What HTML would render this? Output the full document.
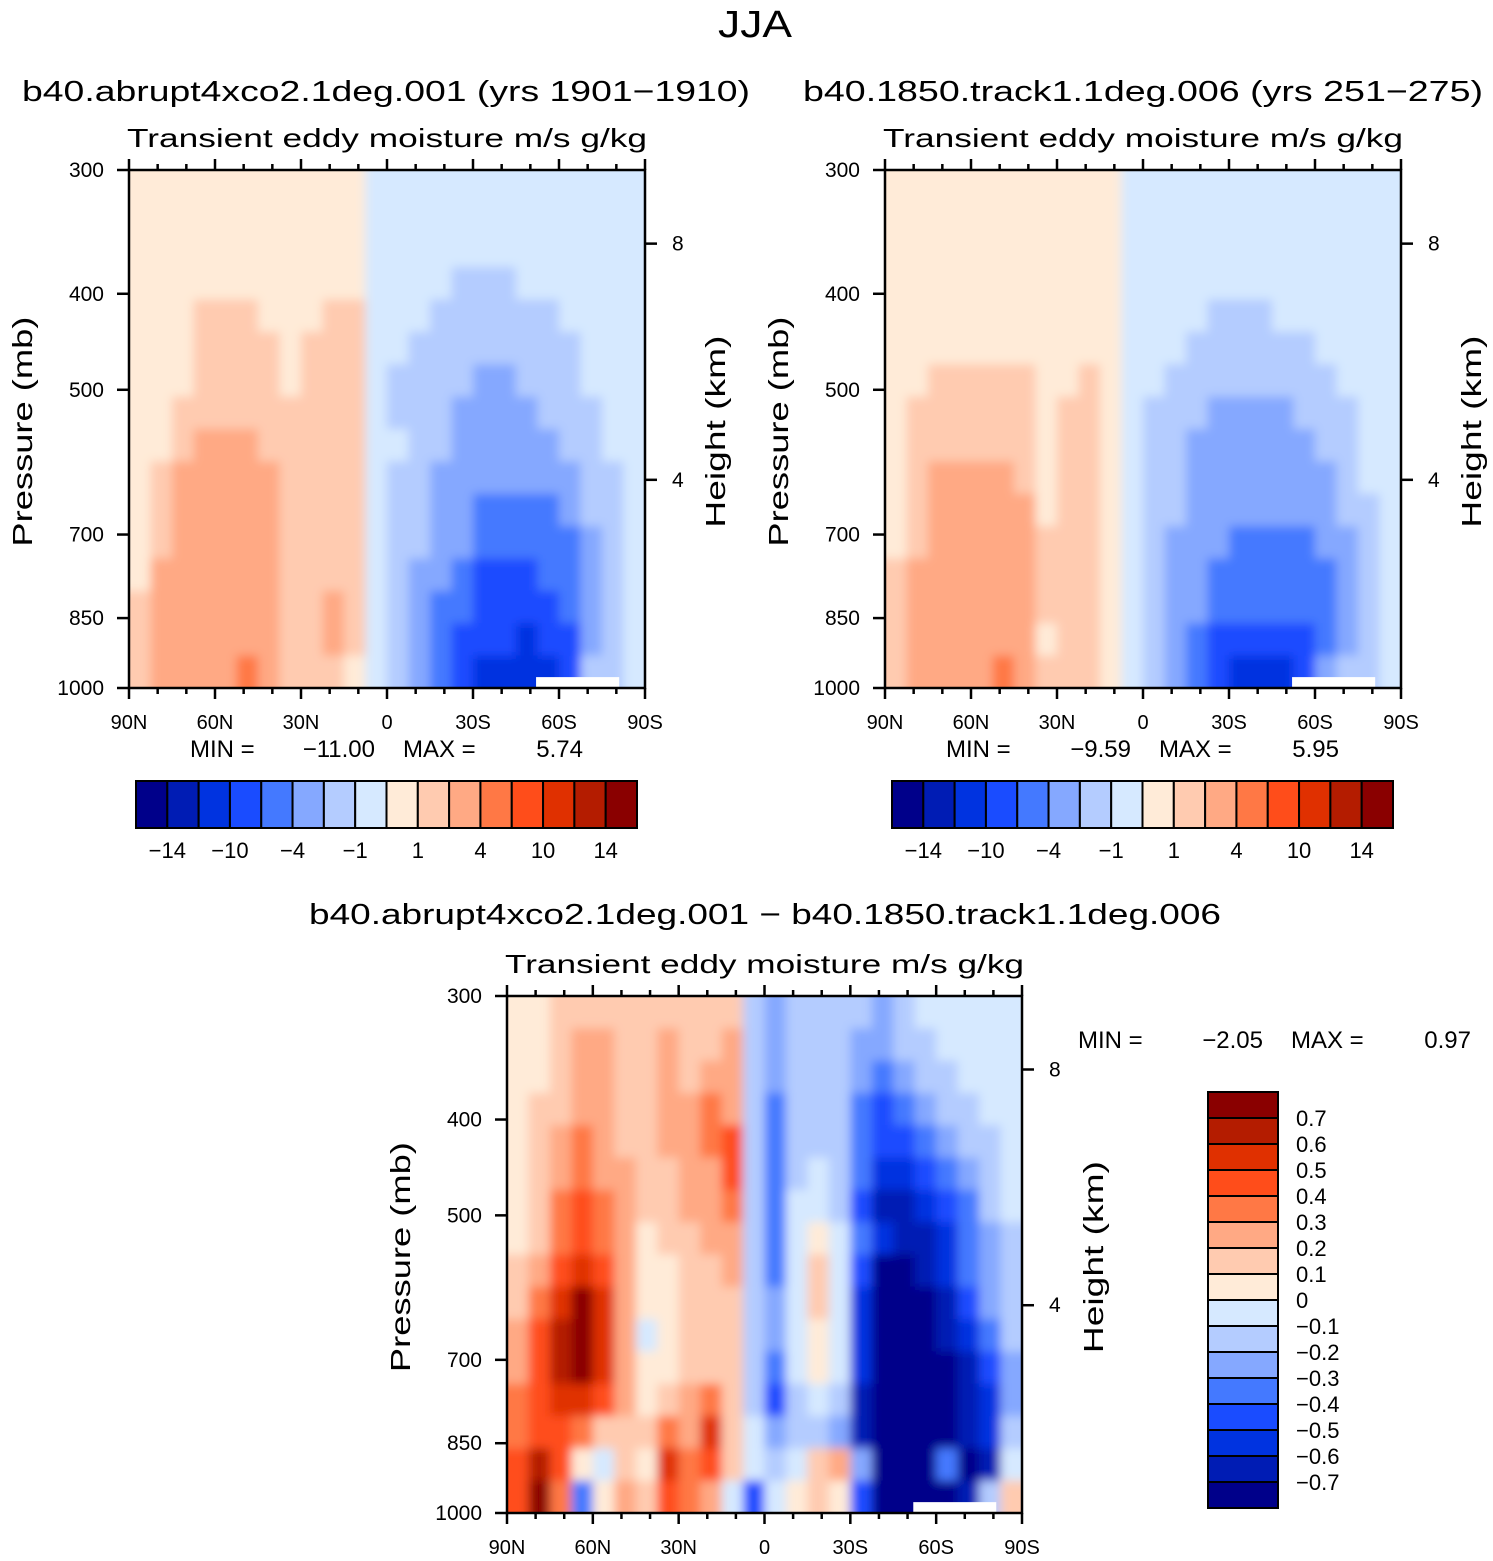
<!DOCTYPE html>
<html><head><meta charset="utf-8"><style>
html,body{margin:0;padding:0;background:#fff;}
svg{display:block;font-family:"Liberation Sans",sans-serif;}
</style></head><body>
<svg id="fig" width="1493" height="1561" viewBox="0 0 1493 1561" xmlns="http://www.w3.org/2000/svg">
<defs>
<filter id="soft" x="-5%" y="-5%" width="110%" height="110%"><feGaussianBlur stdDeviation="5"/></filter>
</defs>
<text x="755" y="37" font-size="38" text-anchor="middle" textLength="74" lengthAdjust="spacingAndGlyphs">JJA</text>
</svg>
<script>
// ---- data ----
const palette = ["#00008a","#001cb4","#0033e0","#1a4cff","#4479ff","#85a8ff","#b4ccff","#d6e9ff","#ffebd8","#ffcbb0","#ffa984","#ff7845","#ff4d1a","#e03000","#b41c00","#8a0000"];
const topLevelLabels = ["−14","−10","−4","−1","1","4","10","14"];
const diffLevelLabels = ["0.7","0.6","0.5","0.4","0.3","0.2","0.1","0","−0.1","−0.2","−0.3","−0.4","−0.5","−0.6","−0.7"];
const latTickLabels = ["90N","60N","30N","0","30S","60S","90S"];
const latTickValues = [90,60,30,0,-30,-60,-90];
const pressureTicks = [300,400,500,700,850,1000];
const heightTicks = [8,4];
const stats1 = ["−11.00","5.74"];
const stats2 = ["−9.59","5.95"];
const stats3 = ["−2.05","0.97"];
const grid1 = [
[8,8,8,8,8,8,8,8,8,8,8,7,7,7,7,7,7,7,7,7,7,7,7,7],
[8,8,8,8,8,8,8,8,8,8,8,7,7,7,7,7,7,7,7,7,7,7,7,7],
[8,8,8,8,8,8,8,8,8,8,8,7,7,7,7,7,7,7,7,7,7,7,7,7],
[8,8,8,8,8,8,8,8,8,8,8,7,7,7,7,6,6,6,7,7,7,7,7,7],
[8,8,8,9,9,9,8,8,8,9,9,7,7,7,6,6,6,6,6,6,7,7,7,7],
[8,8,8,9,9,9,9,8,9,9,9,7,7,6,6,6,6,6,6,6,6,7,7,7],
[8,8,8,9,9,9,9,8,9,9,9,7,6,6,6,6,5,5,6,6,6,7,7,7],
[8,8,9,9,9,9,9,9,9,9,9,7,6,6,6,5,5,5,5,6,6,6,7,7],
[8,8,9,10,10,10,9,9,9,9,9,7,7,6,6,5,5,5,5,5,6,6,7,7],
[8,9,10,10,10,10,10,9,9,9,9,7,6,6,5,5,5,5,5,5,5,6,6,7],
[8,9,10,10,10,10,10,9,9,9,9,7,6,6,5,5,4,4,4,4,5,6,6,7],
[8,9,10,10,10,10,10,9,9,9,9,7,6,6,5,5,4,4,4,4,4,5,6,7],
[8,10,10,10,10,10,10,9,9,9,9,7,6,5,5,4,3,3,3,4,4,5,6,7],
[9,10,10,10,10,10,10,9,9,10,9,7,6,5,4,4,3,3,3,3,4,5,6,7],
[9,10,10,10,10,10,10,9,9,10,9,7,6,5,4,3,3,3,2,3,3,5,6,7],
[9,10,10,10,10,11,10,9,9,9,8,7,6,5,4,3,2,2,2,2,3,6,6,7]
];
const grid2 = [
[8,8,8,8,8,8,8,8,8,8,8,7,7,7,7,7,7,7,7,7,7,7,7,7],
[8,8,8,8,8,8,8,8,8,8,8,7,7,7,7,7,7,7,7,7,7,7,7,7],
[8,8,8,8,8,8,8,8,8,8,8,7,7,7,7,7,7,7,7,7,7,7,7,7],
[8,8,8,8,8,8,8,8,8,8,8,7,7,7,7,7,7,7,7,7,7,7,7,7],
[8,8,8,8,8,8,8,8,8,8,8,7,7,7,7,6,6,6,7,7,7,7,7,7],
[8,8,8,8,8,8,8,8,8,8,8,7,7,7,6,6,6,6,6,6,7,7,7,7],
[8,8,9,9,9,9,9,8,8,9,8,7,7,6,6,6,6,6,6,6,6,7,7,7],
[8,9,9,9,9,9,9,8,9,9,8,7,6,6,6,5,5,5,5,6,6,6,7,7],
[8,9,9,9,9,9,9,8,9,9,8,7,6,6,5,5,5,5,5,5,6,6,7,7],
[8,9,10,10,10,10,9,8,9,9,8,7,6,6,5,5,5,5,5,5,5,6,7,7],
[8,9,10,10,10,10,10,8,9,9,8,7,6,6,5,5,5,5,5,5,5,6,6,7],
[8,9,10,10,10,10,10,9,9,9,8,7,6,5,5,5,4,4,4,4,5,5,6,7],
[9,10,10,10,10,10,10,9,9,9,8,7,6,5,5,4,4,4,4,4,4,5,6,7],
[9,10,10,10,10,10,10,9,9,9,8,7,6,5,5,4,4,4,4,4,4,5,6,7],
[9,10,10,10,10,10,10,8,9,9,8,7,6,5,4,3,3,3,3,3,4,5,6,7],
[9,10,10,10,10,11,10,9,9,9,8,7,6,5,4,3,2,2,2,3,5,6,6,7]
];
const grid3 = [
[8,8,9,9,9,9,9,9,9,9,9,6,5,6,6,6,6,5,6,7,7,7,7,7],
[8,8,9,10,10,9,9,10,9,9,10,6,5,6,6,6,5,5,6,6,7,7,7,7],
[8,8,9,10,10,9,9,10,9,10,10,6,5,6,6,6,5,4,5,6,6,7,7,7],
[8,9,9,10,10,9,9,10,10,11,10,6,4,6,6,6,4,3,4,5,6,6,7,7],
[8,9,10,11,10,9,9,10,10,11,12,6,4,6,6,6,4,3,3,4,5,6,6,7],
[8,9,10,11,10,10,9,9,10,10,12,6,4,6,7,6,4,2,2,3,4,5,6,7],
[8,9,11,12,11,10,9,9,10,10,11,6,4,7,7,6,3,1,1,2,3,4,6,7],
[8,9,11,12,11,10,8,9,9,10,10,6,4,7,8,7,4,2,1,1,2,4,5,6],
[9,10,12,13,12,10,8,8,9,9,10,6,4,7,9,7,3,0,0,1,2,4,5,6],
[9,11,13,15,13,10,8,8,9,9,9,6,5,7,9,7,2,0,0,0,1,3,5,6],
[10,12,14,15,13,10,7,8,9,9,9,6,5,7,8,7,2,0,0,0,1,2,4,6],
[10,12,14,15,13,10,8,8,9,9,9,6,4,7,8,7,2,0,0,0,0,1,3,5],
[11,12,13,13,12,10,8,9,10,11,9,6,3,6,7,6,1,0,0,0,0,1,2,5],
[11,12,12,11,9,9,9,11,10,13,9,7,5,6,6,5,1,0,0,0,0,1,2,6],
[12,14,12,8,7,9,8,13,11,12,9,7,6,7,9,10,5,0,0,0,4,0,1,7],
[12,15,11,4,8,10,9,12,11,10,7,3,7,8,9,8,3,0,0,0,0,1,6,9]
];

// ---- helpers ----
const NS = "http://www.w3.org/2000/svg";
const svg = document.getElementById("fig");
const defs = svg.querySelector("defs");
function mk(tag, attrs, parent){
  const e = document.createElementNS(NS, tag);
  for (const k in attrs) e.setAttribute(k, attrs[k]);
  (parent||svg).appendChild(e);
  return e;
}
function txt(str, x, y, size, anchor, parent, extra){
  const t = mk("text", Object.assign({x:x, y:y, "font-size":size, "text-anchor":anchor||"start", fill:"#000"}, extra||{}), parent);
  t.textContent = str;
  return t;
}
function stdP(zkm){ return 1013.25*Math.pow(1-2.25577e-5*zkm*1000, 5.25588); }

let clipCount = 0;
function drawPanel(o){
  const g = mk("g", {});
  
  
  const L=o.x, T=o.y, W=o.w, H=o.h;
  const xLat = lat => L + W*(90-lat)/180;
  const yP = p => T + H*Math.log(p/300)/Math.log(1000/300);
  const grid = o.grid;
  const nr = grid.length, nc = grid[0].length;
  const cid = "clip"+(clipCount++);
  const cp = mk("clipPath", {id:cid}, defs);
  mk("rect", {x:L, y:T, width:W, height:H}, cp);
  const clipG = mk("g", {"clip-path":`url(#${cid})`}, g);
  const cells = mk("g", {filter:"url(#soft)"}, clipG);
  
  
  const pad = 25;
  for (let j=0;j<nr;j++){
    const p0 = 300*Math.pow(1000/300, j/nr), p1 = 300*Math.pow(1000/300,(j+1)/nr);
    let y0 = yP(p0), y1 = yP(p1);
    if (j===0) y0 -= pad;
    if (j===nr-1) y1 += pad;
    for (let i=0;i<nc;i++){
      const la0 = 90-180*i/nc, la1 = 90-180*(i+1)/nc;
      let x0 = xLat(la0), x1 = xLat(la1);
      if (i===0) x0 -= pad;
      if (i===nc-1) x1 += pad;
      const r = mk("rect", {x:x0, y:y0, width:x1-x0+0.6, height:y1-y0+0.6, fill:palette[grid[j][i]]}, cells);
      
      
    }
  }
  const wb = mk("rect", {x:xLat(-52), y:yP(975), width:xLat(-81)-xLat(-52), height:yP(1000)-yP(975), fill:"#fff"}, g);
  
  
  const fr = mk("rect", {x:L, y:T, width:W, height:H, fill:"none", stroke:"#000", "stroke-width":2.5}, g);
  
  
  for (let lat=90; lat>=-90; lat-=10){
    const x = xLat(lat), major = lat%30===0, len = major?11:6;
    mk("line",{x1:x,y1:T,x2:x,y2:T-len,stroke:"#000","stroke-width":2.5},g);
    mk("line",{x1:x,y1:T+H,x2:x,y2:T+H+len,stroke:"#000","stroke-width":2.5},g);
  }
  latTickLabels.forEach((s,k)=>{
    const t = txt(s, xLat(latTickValues[k]), T+H+41, 20, "middle", g);
    
    
  });
  pressureTicks.forEach(p=>{
    const y = yP(p);
    mk("line",{x1:L,y1:y,x2:L-12,y2:y,stroke:"#000","stroke-width":2.5},g);
    const t = txt(String(p), L-25, y+7, 21, "end", g);
    
    
  });
  heightTicks.forEach(z=>{
    const y = yP(stdP(z));
    mk("line",{x1:L+W,y1:y,x2:L+W+12,y2:y,stroke:"#000","stroke-width":2.5},g);
    const t = txt(String(z), L+W+27, y+7, 21, "start", g);
    
    
  });
  const yc = T + H*0.505;
  const pt = txt("Pressure  (mb)", 0, 0, 28, "middle", g, {transform:`translate(${o.pX},${yc}) rotate(-90)`, textLength:230, lengthAdjust:"spacingAndGlyphs"});
  
  
  const ht = txt("Height  (km)", 0, 0, 28, "middle", g, {transform:`translate(${o.hX},${yc}) rotate(-90)`, textLength:192, lengthAdjust:"spacingAndGlyphs"});
  
  
  const st = txt("Transient  eddy  moisture m/s  g/kg", L+W/2, T-23, 26, "middle", g, {textLength:W+4, lengthAdjust:"spacingAndGlyphs"});
  
  
  if (o.title){
    const tt = txt(o.title, o.titleX, o.titleY, 29, "middle", g, {textLength:o.titleW, lengthAdjust:"spacingAndGlyphs"});
    
    
  }
  return g;
}
function statsText(vals, x0, y, g){
  const a = txt("MIN  =", x0, y, 24, "start", g);
  
  
  const b = txt(vals[0], x0+185, y, 24, "end", g);
  
  
  const c = txt("MAX  =", x0+213, y, 24, "start", g);
  
  
  const d = txt(vals[1], x0+393, y, 24, "end", g);
  
  
}
function hColorbar(x, y, w, h, name){
  const g = mk("g", {});
  
  
  const bw = w/palette.length;
  palette.forEach((c,k)=>{
    const r = mk("rect",{x:x+k*bw,y:y,width:bw,height:h,fill:c,stroke:"#000","stroke-width":2},g);
    
    
  });
  topLevelLabels.forEach((s,k)=>{
    const t = txt(s, x+(2*k+1)*bw, y+h+30, 22, "middle", g);
    
    
  });
}

drawPanel({name:"panel-abrupt4xco2", x:129, y:170, w:516, h:518, grid:grid1, pX:32, hX:725,
  title:"b40.abrupt4xco2.1deg.001  (yrs  1901−1910)", titleX:386, titleY:101, titleW:728});
drawPanel({name:"panel-1850-control", x:885, y:170, w:516, h:518, grid:grid2, pX:788, hX:1481,
  title:"b40.1850.track1.1deg.006  (yrs  251−275)", titleX:1143, titleY:101, titleW:680});
drawPanel({name:"panel-difference", x:507, y:996, w:515, h:517, grid:grid3, pX:410, hX:1103,
  title:"b40.abrupt4xco2.1deg.001  −  b40.1850.track1.1deg.006", titleX:765, titleY:924, titleW:912});

statsText(stats1, 190, 757, svg);
statsText(stats2, 946, 757, svg);
statsText(stats3, 1078, 1048, svg);

hColorbar(136, 781, 501, 47, "colorbar-top-left");
hColorbar(892, 781, 501, 47, "colorbar-top-right");

(function(){
  const g = mk("g", {});
  
  
  const x=1208, y=1092, w=70, h=416, bh=h/palette.length;
  for (let k=0;k<palette.length;k++){
    const r = mk("rect",{x:x,y:y+k*bh,width:w,height:bh,fill:palette[palette.length-1-k],stroke:"#000","stroke-width":2},g);
    
    
  }
  diffLevelLabels.forEach((s,k)=>{
    const t = txt(s, 1296, y+(k+1)*bh+8, 22, "start", g);
    
    
  });
})();
</script>
</body></html>
